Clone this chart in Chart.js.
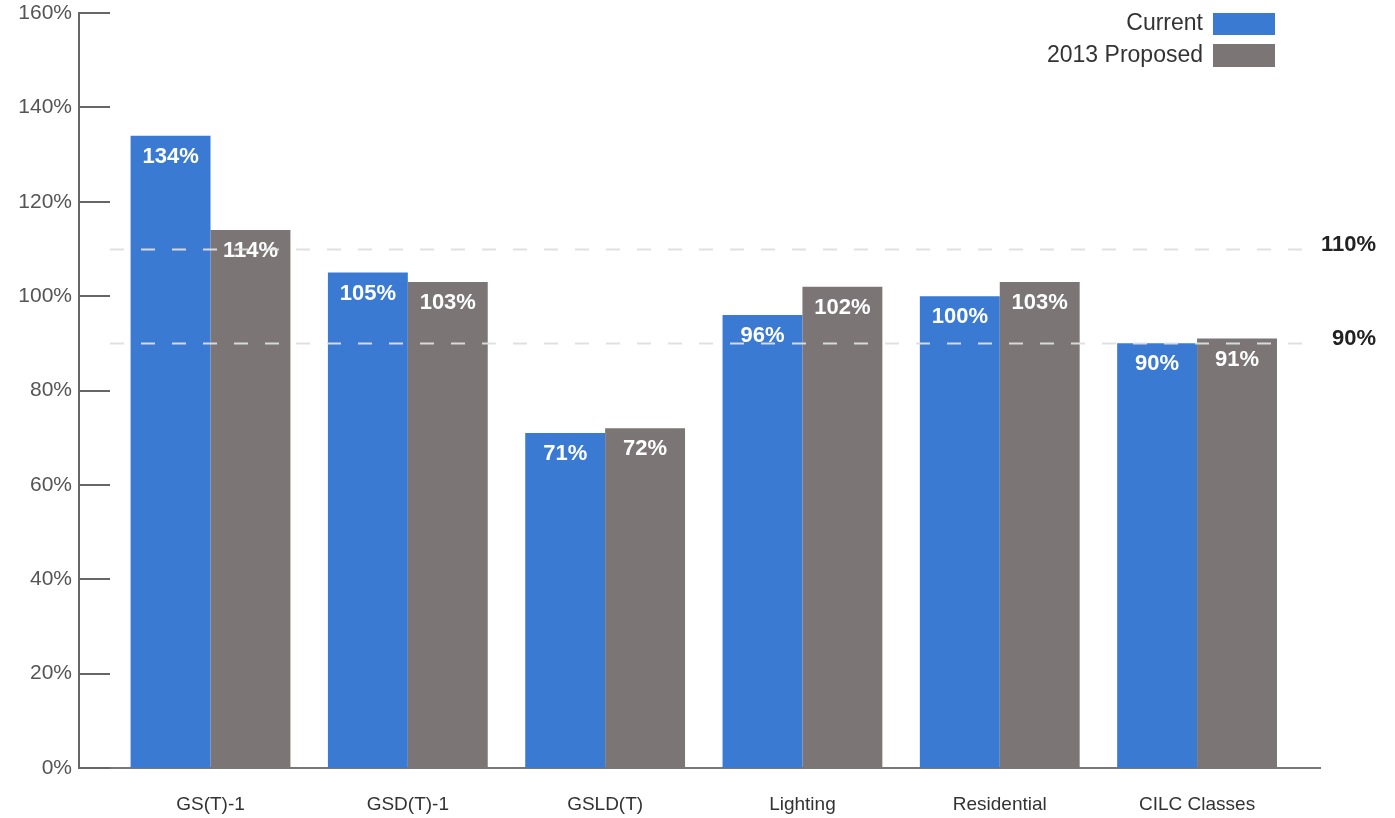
<!DOCTYPE html>
<html>
<head>
<meta charset="utf-8">
<title>Revenue to cost ratio by class</title>
<script src="https://cdn.jsdelivr.net/npm/chart.js@4.4.1/dist/chart.umd.min.js"></script>
<style>
  html, body { margin: 0; padding: 0; background: #fff; }
  #wrap { width: 1395px; height: 818px; }
</style>
</head>
<body>
<div id="wrap"><canvas id="barChart" width="1395" height="818"></canvas></div>
<script>
// rate classes and ratios (%)
var classes = ['GS(T)-1', 'GSD(T)-1', 'GSLD(T)', 'Lighting', 'Residential', 'CILC Classes'];
var currentValues = [134, 105, 71, 96, 100, 90];
var proposedValues = [114, 103, 72, 102, 103, 91];
var seriesNames = ['Current', '2013 Proposed'];
var seriesColors = ['#3b7ad3', '#7b7576'];

// reference band lines
var bandValues = [110, 90];
var bandLabels = ['110%', '90%'];

var FONT = '"Liberation Sans", Arial, Helvetica, sans-serif';

function toPoints(values) {
    return values.map(function (v, i) { return { x: i, y: v }; });
}

//value labels, dashed band lines and the tick stubs
var overlayPlugin = {
    id: 'overlay',
    afterDatasetsDraw: function (chart) {
        var ctx = chart.ctx;
        var area = chart.chartArea;
        var yScale = chart.scales.y;

        ctx.save();
        ctx.fillStyle = '#ffffff';
        ctx.font = 'bold 22px ' + FONT;
        ctx.textAlign = 'center';
        ctx.textBaseline = 'middle';
        chart.data.datasets.forEach(function (ds, di) {
            chart.getDatasetMeta(di).data.forEach(function (bar, i) {
                ctx.fillText(ds.data[i].y + '%', bar.x, bar.y + 21);
            });
        });

        // dashed band lines
        ctx.setLineDash([14, 17]);
        ctx.lineWidth = 2;
        ctx.strokeStyle = 'rgba(222,222,222,0.95)';
        bandValues.forEach(function (v, i) {
            var y = Math.round(yScale.getPixelForValue(v)) + 0.5;
            ctx.beginPath();
            ctx.moveTo(area.left + 31, y);
            ctx.lineTo(area.right - 10, y);
            ctx.stroke();
        });
        ctx.setLineDash([]);

        ctx.fillStyle = '#222';
        ctx.font = 'bold 22px ' + FONT;
        ctx.textAlign = 'right';
        bandValues.forEach(function (v, i) {
            ctx.fillText(bandLabels[i], 1376, yScale.getPixelForValue(v) - 4);
        });

        // tick stubs point into the plot
        ctx.strokeStyle = '#666';
        ctx.lineWidth = 2;
        yScale.ticks.forEach(function (t) {
            var y = Math.round(yScale.getPixelForValue(t.value));
            ctx.beginPath();
            ctx.moveTo(area.left, y);
            ctx.lineTo(area.left + 31, y);
            ctx.stroke();
        });
        ctx.restore();
    },
    afterDraw: function (chart) {
        // legend: label on the left, swatch on the right
        var ctx = chart.ctx;
        ctx.save();
        ctx.font = '23px ' + FONT;
        ctx.textAlign = 'right';
        ctx.textBaseline = 'middle';
        var rows = [{ top: 13, h: 22 }, { top: 44, h: 23 }];
        chart.data.datasets.forEach(function (ds, i) {
            var r = rows[i];
            ctx.fillStyle = '#333';
            ctx.fillText(ds.label, 1203, r.top + r.h / 2);
            ctx.fillStyle = ds.backgroundColor;
            ctx.fillRect(1213, r.top, 62, r.h);
        });
        ctx.restore();
    }
};

var barContext = document.getElementById('barChart').getContext('2d');

var barData = {
    datasets: [
        {
            label: seriesNames[0],
            data: toPoints(currentValues),
            backgroundColor: seriesColors[0]
        },
        {
            label: seriesNames[1],
            data: toPoints(proposedValues),
            backgroundColor: seriesColors[1]
        }
    ]
};

var barOptions = {
    responsive: false,
    animation: false,
    events: [],
    barPercentage: 1.0,
    categoryPercentage: 0.81,
    layout: { padding: { top: 13, right: 75, left: 0, bottom: 0 } },
    plugins: {
        legend: { display: false },
        tooltip: { enabled: false }
    },
    scales: {
        x: {
            type: 'linear',
            offset: false,
            min: -0.6665,
            max: 5.623,
            afterBuildTicks: function (scale) {
                scale.ticks = classes.map(function (c, i) { return { value: i }; });
            },
            afterFit: function (scale) {
                scale.height = 50;
                scale.paddingLeft = 0;
                scale.paddingRight = 0;
            },
            grid: { display: false, drawTicks: false },
            border: { display: true, color: '#777', width: 2 },
            ticks: {
                padding: 25,
                autoSkip: false,
                maxRotation: 0,
                color: '#333',
                font: { family: FONT, size: 19 },
                callback: function (v) { return classes[v]; }
            }
        },
        y: {
            min: 0,
            max: 160,
            afterFit: function (scale) {
                scale.width = 79;
                scale.paddingTop = 0;
                scale.paddingBottom = 0;
            },
            grid: { display: false, drawTicks: false },
            border: { display: true, color: '#666', width: 2 },
            ticks: {
                stepSize: 20,
                padding: 7,
                color: '#555',
                font: { family: FONT, size: 21 },
                callback: function (v) { return v + '%'; }
            }
        }
    }
};

var barChart = new Chart(barContext, {
    type: 'bar',
    data: barData,
    options: barOptions,
    plugins: [overlayPlugin]
});
</script>
</body>
</html>
